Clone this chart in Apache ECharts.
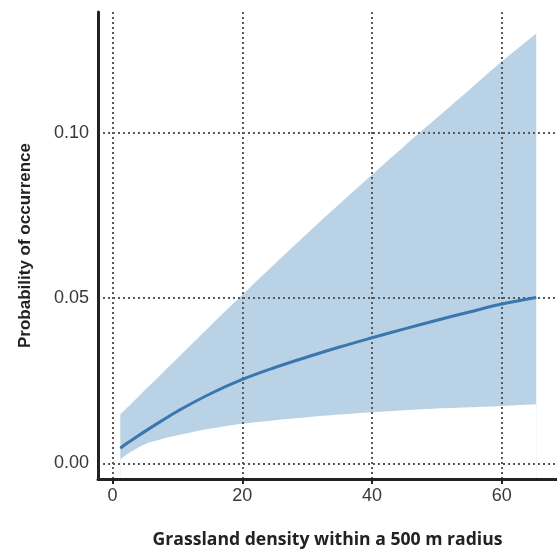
<!DOCTYPE html>
<html><head><meta charset="utf-8">
<script src="https://cdn.jsdelivr.net/npm/echarts@6/dist/echarts.min.js"></script>
<style>html,body{margin:0;padding:0;background:#fff}#c{width:557px;height:554px}</style>
</head><body><div id="c"></div>
<script>
const xValues     = [1.2, 2, 3, 5, 7.5, 10, 15, 20, 25, 30, 35, 40, 45, 50, 55, 60, 65.3];
const fitValues   = [0.0046, 0.0058, 0.0071, 0.0097, 0.0128, 0.0158, 0.0210, 0.0254, 0.0290, 0.0322, 0.0352, 0.0380, 0.0407, 0.0433, 0.0458, 0.0482, 0.0502];
const lowerValues = [0.0012, 0.0025, 0.0037, 0.0058, 0.0073, 0.0085, 0.0105, 0.0120, 0.0131, 0.0140, 0.0148, 0.0155, 0.0161, 0.0166, 0.0170, 0.0174, 0.0179];
const upperValues = [0.0149, 0.0164, 0.0183, 0.0222, 0.0270, 0.0318, 0.0415, 0.0510, 0.0603, 0.0695, 0.0785, 0.0873, 0.0960, 0.1045, 0.1130, 0.1215, 0.1300];
const xTicks = [0, 20, 40, 60];
const yTicks = [0, 0.05, 0.10];
const yTickLabels = ['0.00', '0.05', '0.10'];

const pairs = arr => xValues.map((x, i) => [x, arr[i]]);
const gridLine = { show: true, lineStyle: { color: '#5a5a5a', width: 2, type: [2, 3] } };

const chart = echarts.init(document.getElementById('c'), null, { renderer: 'canvas' });
chart.setOption({
  animation: false,
  backgroundColor: '#fff',
  grid: { left: 98, right: 0, top: 12, bottom: 74, containLabel: false },
  xAxis: {
    type: 'value', min: -2.24, max: 68.5, z: 10,
    name: 'Grassland density within a 500 m radius',
    nameLocation: 'middle', nameGap: 52,
    nameTextStyle: { fontFamily: 'Open Sans', fontWeight: 'bold', fontSize: 17.6, color: '#222' },
    axisLine: { show: true, onZero: false, lineStyle: { color: '#222', width: 3 } },
    axisTick: { show: true, length: 5, customValues: xTicks, lineStyle: { color: '#222', width: 2 } },
    axisLabel: { customValues: xTicks, margin: 8, fontFamily: 'Liberation Sans', fontSize: 18, color: '#383838' },
    splitLine: gridLine
  },
  yAxis: {
    type: 'value', min: -0.0047, max: 0.1365, z: 10,
    name: 'Probability of occurrence',
    nameLocation: 'middle', nameGap: 64, nameRotate: 90,
    nameTextStyle: { fontFamily: 'Liberation Sans', fontWeight: 'bold', fontSize: 17, color: '#222' },
    axisLine: { show: true, onZero: false, lineStyle: { color: '#222', width: 3 } },
    axisTick: { show: false, customValues: yTicks },
    axisLabel: { customValues: yTicks, margin: 9, fontFamily: 'Liberation Sans', fontSize: 18, color: '#383838',
      formatter: v => { const i = yTicks.findIndex(t => Math.abs(t - v) < 1e-9); return i >= 0 ? yTickLabels[i] : ''; } },
    splitLine: gridLine
  },
  series: [
    { type: 'line', data: pairs(upperValues), smooth: 0.4, symbol: 'none', z: 2,
      lineStyle: { width: 0, opacity: 0 }, areaStyle: { color: '#b9d2e5', opacity: 1, origin: 'start' }, silent: true },
    { type: 'line', data: pairs(lowerValues), smooth: 0.4, symbol: 'none', z: 3,
      lineStyle: { width: 0, opacity: 0 }, areaStyle: { color: '#ffffff', opacity: 1, origin: 'start' }, silent: true },
    { type: 'line', data: pairs(fitValues), smooth: 0.4, symbol: 'none', z: 20,
      lineStyle: { color: '#3a77ae', width: 3 }, silent: true }
  ]
});
</script></body></html>
